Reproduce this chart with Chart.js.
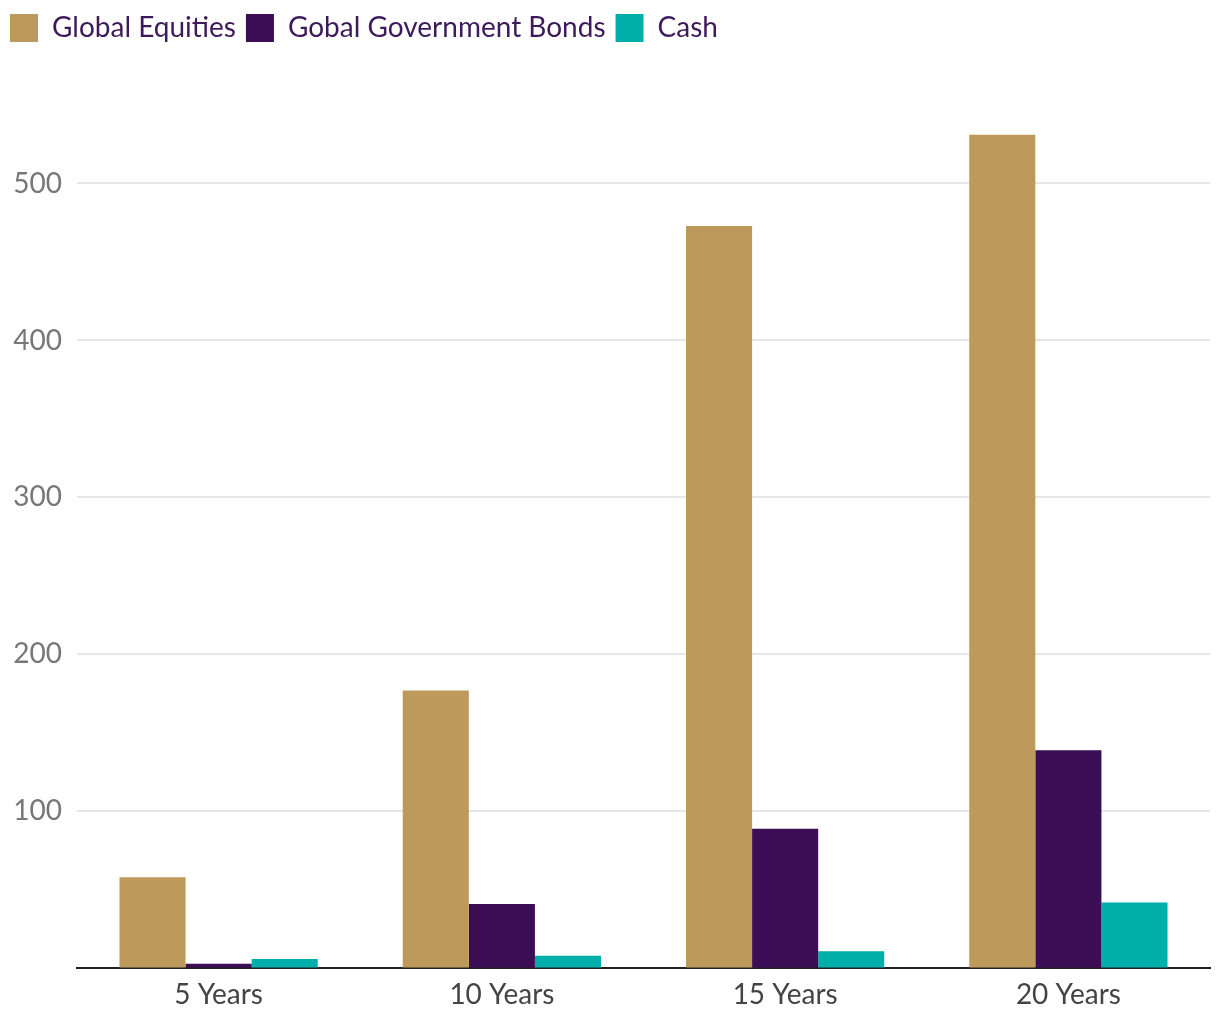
<!DOCTYPE html>
<html>
<head>
<meta charset="utf-8">
<script src="https://cdn.jsdelivr.net/npm/chart.js@4.4.1/dist/chart.umd.min.js"></script>
<style>
html,body{margin:0;padding:0;background:#fff;}
#wrap{width:1220px;height:1020px;position:relative;}
</style>
</head>
<body>
<div id="wrap"><canvas id="c" width="1220" height="1020"></canvas></div>
<script>
const categories = ["5 Years", "10 Years", "15 Years", "20 Years"];
const equities = [58, 177, 473, 531];
const bonds = [3, 41, 89, 139];
const cash = [6, 8, 11, 42];
const seriesNames = ["Global Equities", "Gobal Government Bonds", "Cash"];
const seriesColors = ["#bd9a5c", "#3b0d54", "#00afaa"];

const FONT = "Lato, 'Open Sans', sans-serif";

const legendSpace = {
  id: 'legendSpace',
  beforeInit(chart) {
    const orig = chart.legend.fit;
    chart.legend.fit = function () {
      orig.bind(chart.legend)();
      this.height += 53;
    };
  }
};

new Chart(document.getElementById('c'), {
  type: 'bar',
  data: {
    labels: categories,
    datasets: [
      { label: seriesNames[0], data: equities, backgroundColor: seriesColors[0] },
      { label: seriesNames[1], data: bonds, backgroundColor: seriesColors[1] },
      { label: seriesNames[2], data: cash, backgroundColor: seriesColors[2] }
    ]
  },
  options: {
    responsive: false,
    animation: false,
    devicePixelRatio: 1,
    layout: { padding: { left: 0, right: 10, top: 4, bottom: -2 } },
    datasets: { bar: { categoryPercentage: 0.7, barPercentage: 1.0 } },
    plugins: {
      tooltip: { enabled: false },
      legend: {
        position: 'top',
        align: 'start',
        labels: {
          boxWidth: 28,
          boxHeight: 28,
          padding: 10,
          color: '#3d1a5b',
          font: { family: FONT, size: 28 }
        }
      }
    },
    scales: {
      x: {
        grid: { display: false, drawTicks: false },
        border: { display: true, color: '#222', width: 2 },
        ticks: { color: '#444', font: { family: FONT, size: 28 }, padding: 10 }
      },
      y: {
        min: 0,
        max: 550,
        afterBuildTicks(scale) {
          scale.ticks = scale.ticks.filter(t => t.value % 100 === 0);
        },
        afterFit(scale) { scale.width = 77; },
        grid: { color: '#e6e6e6', lineWidth: 2, drawTicks: false },
        border: { display: false },
        ticks: {
          stepSize: 50,
          color: '#777',
          padding: 15,
          font: { family: FONT, size: 28 },
          callback: (v) => (v === 0 ? '' : v)
        }
      }
    }
  },
  plugins: [legendSpace]
});
</script>
</body>
</html>
